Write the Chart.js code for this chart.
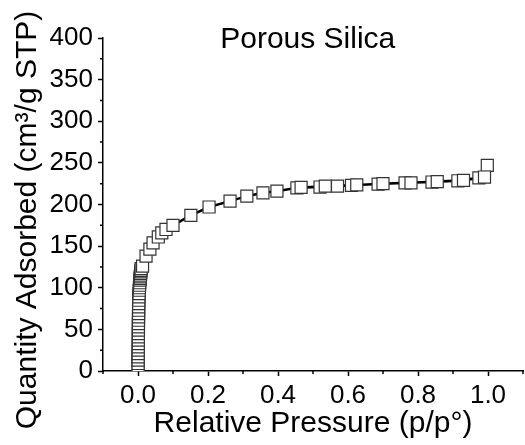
<!DOCTYPE html>
<html>
<head>
<meta charset="utf-8">
<script src="https://cdn.jsdelivr.net/npm/chart.js@4/dist/chart.umd.min.js"></script>
<style>
  body { margin: 0; background: #fff; }
  #wrap { width: 525px; height: 445px; position: relative; }
</style>
</head>
<body>
<div id="wrap"><canvas id="chart"></canvas></div>
<script>
// adsorption branch (p/p0, cm3/g STP)
const adsX = [0.0002, 0.0003, 0.0004, 0.0005, 0.0006, 0.0007, 0.0008, 0.0009, 0.001, 0.001, 0.0011, 0.0012,
  0.0012, 0.0013, 0.0014, 0.0015, 0.0016, 0.0017, 0.0018, 0.002, 0.0022, 0.0025, 0.003, 0.0035, 0.004,
  0.0045, 0.005, 0.0055, 0.006, 0.0065, 0.007, 0.0075, 0.008, 0.0085, 0.009,
  0.013, 0.023, 0.034, 0.043, 0.058, 0.068, 0.08, 0.1, 0.151, 0.203, 0.263, 0.311, 0.357, 0.397,
  0.454, 0.52, 0.57, 0.61, 0.686, 0.763, 0.84, 0.914, 0.974, 0.998];
const adsY = [5, 9, 13, 17, 21, 25, 29, 33, 37, 41, 45, 49,
  53, 57, 61, 65, 69, 73, 77, 81, 85, 89, 93, 97, 100,
  103, 106, 109, 111, 113, 115, 117, 119, 121, 123,
  126, 138, 146.5, 154, 161, 166, 170, 175, 187, 197, 204, 210, 214, 216,
  220, 221, 222, 223, 224.5, 226, 227, 228.5, 232, 247];
// desorption branch
const desX = [0.99, 0.93, 0.855, 0.78, 0.70, 0.625, 0.535, 0.466];
const desY = [233, 229, 227.5, 226, 225, 223.5, 222, 220.5];

const xMajor = [0, 0.2, 0.4, 0.6, 0.8, 1.0];
const yMajor = [0, 50, 100, 150, 200, 250, 300, 350, 400];

const FONT = "'Liberation Sans', Arial, sans-serif";

const points = adsX.map((x, i) => ({ x: x, y: adsY[i] }))
  .concat(desX.map((x, i) => ({ x: x, y: desY[i] })));

const isMajorX = v => xMajor.some(m => Math.abs(m - v) < 1e-6);
const isMajorY = v => yMajor.includes(Math.round(v));

// short minor ticks, y title and the in-plot title
const extras = {
  id: 'extras',
  afterDraw(chart) {
    const { ctx, scales: { x, y } } = chart;
    ctx.save();
    ctx.strokeStyle = '#000';
    ctx.lineWidth = 1.5;
    ctx.beginPath();
    x.ticks.forEach(t => {
      if (isMajorX(t.value)) return;
      const px = x.getPixelForValue(t.value);
      ctx.moveTo(px, x.top); ctx.lineTo(px, x.top + 3);
    });
    y.ticks.forEach(t => {
      if (isMajorY(t.value)) return;
      const py = y.getPixelForValue(t.value);
      ctx.moveTo(y.right, py); ctx.lineTo(y.right - 3, py);
    });
    ctx.stroke();
    ctx.fillStyle = '#000';
    ctx.font = '30px ' + FONT;
    ctx.textAlign = 'center';
    ctx.textBaseline = 'alphabetic';
    ctx.fillText('Porous Silica', x.getPixelForValue(0.485), y.getPixelForValue(388));
    ctx.translate(36, 220);
    ctx.rotate(-Math.PI / 2);
    ctx.fillText('Quantity Adsorbed (cm³/g STP)', 0, 0);
    ctx.restore();
  }
};

new Chart(document.getElementById('chart'), {
  type: 'line',
  data: {
    datasets: [{
      data: points,
      borderColor: '#000',
      borderWidth: 2.5,
      pointStyle: 'rect',
      pointRadius: 8.5,
      pointBackgroundColor: '#fff',
      pointBorderColor: '#333',
      pointBorderWidth: 1.2,
      tension: 0
    }]
  },
  options: {
    responsive: true,
    maintainAspectRatio: false,
    animation: false,
    layout: { autoPadding: false, padding: { top: 38, right: 2, left: 0, bottom: 0 } },
    plugins: { legend: { display: false }, tooltip: { enabled: false } },
    scales: {
      x: {
        type: 'linear',
        min: -0.1, max: 1.1,
        border: { color: '#000', width: 1.5 },
        grid: {
          drawOnChartArea: false, tickLength: 5, tickWidth: 1.5,
          tickColor: c => isMajorX(c.tick.value) ? '#000' : 'rgba(0,0,0,0)'
        },
        ticks: {
          stepSize: 0.1, autoSkip: false, maxRotation: 0, padding: 4,
          color: '#000', font: { family: FONT, size: 26 },
          callback: v => (isMajorX(v) ? Number(v).toFixed(1) : '')
        },
        title: {
          display: true, text: 'Relative Pressure (p/p°)', color: '#000',
          font: { family: FONT, size: 30 }, padding: { top: 0, bottom: 3 }
        },
        afterFit: s => { s.height = 74; s.paddingLeft = 0; s.paddingRight = 0; }
      },
      y: {
        type: 'linear',
        min: 0, max: 400,
        border: { color: '#000', width: 1.5 },
        grid: {
          drawOnChartArea: false, tickLength: 5, tickWidth: 1.5,
          tickColor: c => isMajorY(c.tick.value) ? '#000' : 'rgba(0,0,0,0)'
        },
        ticks: {
          stepSize: 25, autoSkip: false, padding: 5,
          color: '#000', font: { family: FONT, size: 26 },
          callback: v => (isMajorY(v) ? String(v) : '')
        },
        title: { display: false },
        afterFit: s => { s.width = 103; s.paddingTop = 0; s.paddingBottom = 0; }
      }
    }
  },
  plugins: [extras]
});
</script>
</body>
</html>
